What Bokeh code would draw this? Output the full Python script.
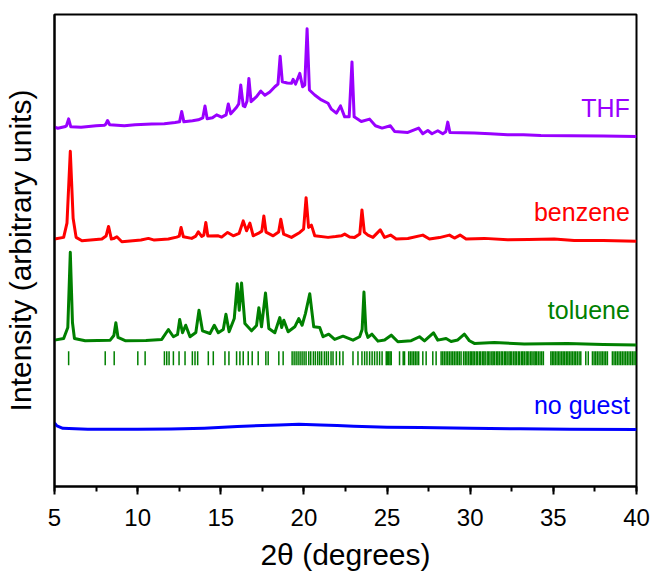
from bokeh.plotting import figure
from bokeh.models import Range1d, SingleIntervalTicker, FixedTicker, Label
from bokeh.embed import file_html
from bokeh.resources import INLINE

# ---------------- data ----------------
# vertical values are offset intensities (arbitrary units)
thf_x = [5.0, 5.2, 5.6, 5.72, 5.85, 5.98, 6.6, 7.5, 8.0, 8.08, 8.19, 8.32, 9.2, 9.85, 10.85, 11.6,
         12.25, 12.52, 12.65, 12.78, 13.3, 13.65, 13.92, 14.05, 14.18, 14.5, 14.75, 15.05, 15.32,
         15.45, 15.6, 15.95, 16.08, 16.2, 16.35, 16.45, 16.58, 16.69, 16.82, 17.15, 17.4, 17.65,
         17.95, 18.25, 18.44, 18.57, 18.7, 19.0, 19.25, 19.35, 19.5, 19.75, 19.92, 20.05, 20.19,
         20.33, 20.65, 21.05, 21.45, 21.65, 21.95, 22.2, 22.45, 22.72, 22.89, 23.02, 23.45, 23.95,
         24.3, 24.7, 25.2, 25.45, 26.25, 26.9, 27.15, 27.45, 27.7, 28.05, 28.35, 28.53, 28.65, 28.78,
         29.5, 30.25, 31.2, 32.25, 33.2, 34.25, 36.0, 38.0, 40.0]
thf_y = [361.7, 360.5, 362.0, 363.0, 370.0, 362.0, 361.5, 363.0, 363.5, 364.5, 368.3, 364.0, 363.0,
         364.0, 364.7, 365.0, 366.3, 367.0, 377.3, 367.0, 368.0, 369.0, 371.0, 383.0, 370.0, 371.0,
         374.0, 371.7, 374.0, 385.0, 375.0, 381.7, 385.0, 404.0, 383.0, 382.3, 388.0, 410.7, 387.3,
         392.3, 398.0, 393.7, 397.0, 402.3, 405.0, 433.0, 407.3, 406.0, 405.7, 409.7, 405.0, 415.7,
         402.3, 404.0, 460.7, 399.0, 394.0, 389.0, 385.7, 379.7, 375.7, 383.0, 372.0, 372.0, 427.3,
         372.0, 367.3, 369.7, 363.0, 360.7, 363.0, 357.3, 356.3, 360.7, 355.0, 358.3, 355.0, 358.0,
         355.0, 357.0, 366.7, 356.3, 356.0, 355.7, 355.0, 354.0, 354.0, 353.3, 353.0, 352.7, 352.3]

benz_x = [5.0, 5.55, 5.75, 5.95, 6.12, 6.3, 6.65, 7.85, 8.1, 8.25, 8.42, 8.55, 8.75, 9.05, 10.2,
          10.65, 11.0, 11.85, 12.35, 12.5, 12.61, 12.75, 13.25, 13.5, 13.65, 13.85, 13.98, 14.1,
          14.22, 14.85, 15.05, 15.41, 15.75, 16.1, 16.35, 16.55, 16.75, 16.95, 17.25, 17.47, 17.59,
          17.72, 18.15, 18.48, 18.61, 18.78, 19.25, 19.75, 19.98, 20.13, 20.28, 20.45, 20.65, 21.45,
          21.9, 22.25, 22.45, 22.75, 23.05, 23.36, 23.49, 23.63, 23.85, 24.15, 24.59, 24.85, 25.21,
          25.55, 26.25, 27.15, 27.55, 28.15, 28.75, 29.05, 29.39, 29.75, 30.85, 32.25, 33.5, 35.05,
          36.25, 38.0, 40.0]
benz_y = [249.0, 250.7, 265.0, 337.3, 270.0, 250.7, 247.3, 249.0, 252.0, 261.7, 249.0, 249.5, 251.3,
          246.3, 248.0, 249.7, 248.0, 249.0, 251.0, 252.0, 260.7, 251.3, 249.7, 252.0, 256.3, 251.7,
          253.0, 265.7, 252.0, 252.3, 251.0, 255.7, 252.3, 254.7, 267.3, 257.3, 265.0, 252.3, 254.7,
          257.0, 272.3, 256.0, 252.3, 256.0, 269.0, 254.0, 250.7, 255.7, 259.0, 290.7, 260.7, 263.0,
          252.3, 250.7, 251.5, 252.3, 254.0, 251.0, 250.7, 254.0, 278.3, 256.0, 253.0, 250.7, 258.3,
          250.7, 253.0, 249.0, 249.5, 253.0, 249.0, 250.5, 253.0, 250.0, 253.0, 249.0, 249.7, 248.3,
          248.5, 249.0, 247.5, 247.5, 246.7]

tol_x = [5.0, 5.55, 5.8, 5.95, 6.08, 6.2, 6.85, 8.35, 8.57, 8.69, 8.82, 9.25, 10.5, 11.45, 11.85,
         12.15, 12.4, 12.53, 12.7, 12.89, 13.15, 13.5, 13.69, 13.9, 14.35, 14.61, 14.85, 15.15,
         15.31, 15.5, 15.81, 15.99, 16.11, 16.25, 16.45, 16.85, 17.15, 17.29, 17.45, 17.69, 17.89,
         18.25, 18.55, 18.66, 18.79, 19.05, 19.45, 19.69, 19.89, 20.09, 20.35, 20.59, 20.95, 21.15,
         21.49, 21.85, 22.35, 22.95, 23.35, 23.5, 23.61, 23.73, 23.85, 24.09, 24.45, 24.85, 25.25,
         25.65, 26.45, 26.95, 27.25, 27.79, 28.05, 28.55, 28.85, 29.25, 29.65, 29.95, 30.25, 31.45,
         33.25, 35.85, 38.0, 40.0]
tol_y = [147.3, 149.0, 160.0, 235.7, 165.0, 149.0, 146.7, 147.3, 152.0, 164.7, 150.0, 146.7, 147.0,
         148.0, 158.0, 150.7, 153.0, 168.0, 154.7, 162.3, 150.7, 155.0, 177.3, 156.7, 154.0, 162.3,
         154.7, 158.0, 173.3, 155.7, 169.0, 204.0, 177.3, 204.7, 164.0, 156.7, 162.0, 180.0, 160.7,
         194.7, 159.0, 154.7, 170.0, 160.0, 167.3, 155.7, 160.7, 169.0, 162.3, 174.0, 194.0, 160.7,
         160.0, 150.7, 153.3, 148.0, 151.3, 147.3, 150.7, 158.0, 195.7, 156.0, 150.0, 153.3, 146.3,
         147.5, 152.3, 145.7, 146.7, 150.7, 146.5, 154.7, 147.3, 149.0, 146.0, 147.5, 153.3, 146.7,
         144.0, 145.0, 143.3, 144.0, 143.0, 142.3]

none_x = [5.0, 5.15, 5.5, 7.0, 10.0, 12.0, 14.0, 16.0, 17.5, 18.5, 19.7, 21.0, 22.0, 23.0, 25.0,
          27.0, 30.0, 33.0, 36.0, 40.0]
none_y = [64.0, 61.0, 58.5, 57.7, 57.5, 57.8, 58.7, 60.3, 61.5, 62.0, 62.7, 62.0, 61.5, 60.7, 59.7,
          59.3, 58.5, 58.0, 57.7, 57.3]

# calculated reflection positions (toluene phase)
refl_x = [5.85, 8.05, 8.59, 10.01, 10.45, 11.61, 11.75, 11.89, 12.15, 12.49, 12.85, 13.29, 13.45,
          13.61, 14.25, 14.55, 15.25, 15.49, 15.95, 16.15, 16.35, 16.65, 16.89, 17.25, 17.71, 17.85,
          18.49, 18.75, 19.29, 19.41, 19.53, 19.65, 19.77, 19.89, 20.01, 20.13, 20.29, 20.41, 20.57,
          20.69, 20.83, 20.95, 21.07, 21.23, 21.35, 21.47, 21.63, 21.75, 21.95, 22.15, 22.35, 22.95,
          23.25, 23.49, 23.65, 23.79, 23.95, 24.1, 24.25, 24.4, 24.55, 24.7, 24.95, 25.02, 25.1,
          25.18, 25.25, 25.75, 25.97, 26.05, 26.3, 26.4, 26.5, 26.6, 26.7, 26.8, 26.9, 27.15, 27.35,
          27.75, 27.95, 28.25, 28.35, 28.45, 28.55, 28.65, 28.75, 28.85, 28.95, 29.05, 29.15, 29.25,
          29.35, 29.45, 29.6, 29.7, 29.8, 29.9, 30.0, 30.08, 30.17, 30.25, 30.36, 30.44, 30.55, 30.63,
          30.74, 30.82, 30.9, 31.02, 31.1, 31.19, 31.3, 31.38, 31.47, 31.58, 31.66, 31.75, 31.86,
          31.94, 32.05, 32.13, 32.22, 32.33, 32.41, 32.5, 32.61, 32.7, 32.78, 32.89, 32.97, 33.08,
          33.16, 33.25, 33.36, 33.44, 33.53, 33.64, 33.72, 33.83, 33.91, 34.0, 34.1, 34.2, 34.3,
          34.4, 34.85, 34.94, 35.03, 35.12, 35.22, 35.31, 35.4, 35.5, 35.59, 35.68, 35.78, 35.87,
          35.96, 36.06, 36.15, 36.25, 36.34, 36.44, 36.55, 36.65, 36.95, 37.1, 37.35, 37.45, 37.55,
          37.65, 37.75, 37.86, 37.95, 38.05, 38.15, 38.25, 38.55, 38.65, 38.75, 38.85, 38.95, 39.05,
          39.15, 39.25, 39.35, 39.45, 39.55, 39.65, 39.75, 39.85, 39.95]
refl_lo = 122
refl_hi = 136

labels = ["THF", "benzene", "toluene", "no guest"]
label_y = [381, 276, 178, 82]
colors = ["#9900ff", "#ff0000", "#008000", "#0000ff"]

FONT = "Liberation Sans"

p = figure(width=653, height=573, output_backend="svg", toolbar_location=None,
           x_range=Range1d(5, 40), y_range=Range1d(0, 475),
           min_border_left=53, min_border_right=17, min_border_top=14, min_border_bottom=84)
p.background_fill_color = "white"
p.border_fill_color = "white"
p.grid.visible = False
p.outline_line_color = "black"
p.outline_line_width = 2
p.outline_line_alpha = 1

for xs, ys, c in [(thf_x, thf_y, colors[0]), (benz_x, benz_y, colors[1]),
                  (tol_x, tol_y, colors[2]), (none_x, none_y, colors[3])]:
    p.line(xs, ys, line_color=c, line_width=3, line_join="round")

p.segment(x0=refl_x, y0=[refl_lo] * len(refl_x), x1=refl_x, y1=[refl_hi] * len(refl_x),
          line_color=colors[2], line_width=1.5)

for t, yv, c in zip(labels, label_y, colors):
    p.add_layout(Label(x=39.6, y=yv, text=t, text_align="right", text_baseline="alphabetic",
                       text_color=c, text_font=FONT, text_font_size="25px"))

xa = p.xaxis[0]
xa.ticker = SingleIntervalTicker(interval=5, num_minor_ticks=2)
xa.major_tick_out = 8
xa.major_tick_in = 0
xa.minor_tick_out = 5
xa.minor_tick_in = 0
xa.major_tick_line_width = 2
xa.minor_tick_line_width = 2
xa.axis_line_width = 2
xa.major_label_text_font = FONT
xa.major_label_text_font_size = "24px"
xa.major_label_text_color = "black"
xa.major_label_standoff = 14
xa.axis_label = "2θ (degrees)"
xa.axis_label_text_font = FONT
xa.axis_label_text_font_size = "30px"
xa.axis_label_text_font_style = "normal"
xa.axis_label_text_color = "black"
xa.axis_label_standoff = 9

ya = p.yaxis[0]
ya.ticker = FixedTicker(ticks=[])
ya.major_tick_out = 0
ya.major_tick_in = 0
ya.minor_tick_out = 0
ya.minor_tick_in = 0
ya.axis_line_width = 2
ya.axis_label = "Intensity (arbitrary units)"
ya.axis_label_text_font = FONT
ya.axis_label_text_font_size = "30px"
ya.axis_label_text_font_style = "normal"
ya.axis_label_text_color = "black"
ya.axis_label_standoff = 18

open("out.html", "w").write(file_html(p, INLINE))
